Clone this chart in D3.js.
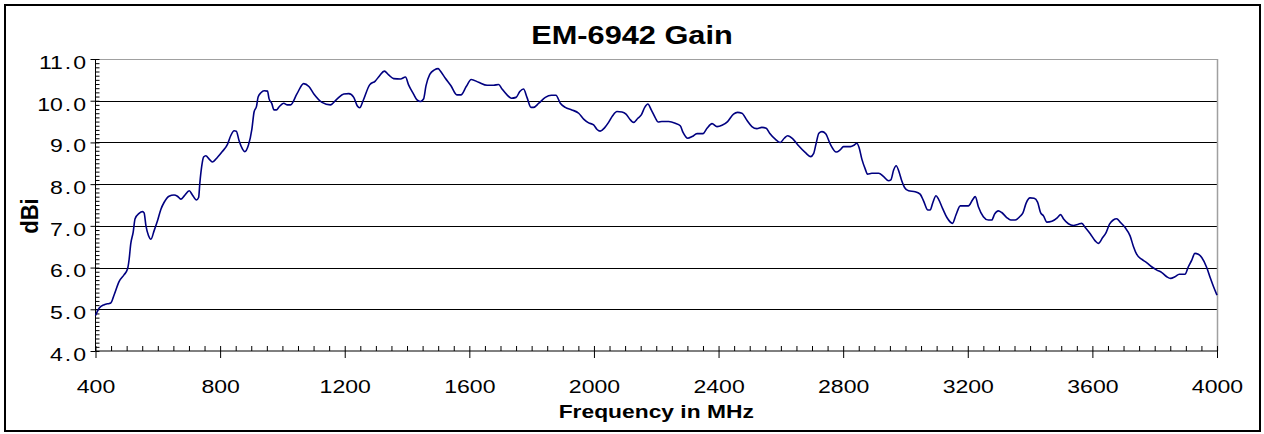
<!DOCTYPE html>
<html><head><meta charset="utf-8">
<script src="https://cdn.jsdelivr.net/npm/d3@7"></script>
<style>
html,body{margin:0;padding:0;background:#fff;}
svg{display:block;font-family:"Liberation Sans",Arial,sans-serif;}
</style></head>
<body>
<svg id="chart" width="1264" height="434"></svg>
<script>
const chartTitle = "EM-6942 Gain";
const xTitle = "Frequency in MHz";
const yTitle = "dBi";
const xTicks = [400, 800, 1200, 1600, 2000, 2400, 2800, 3200, 3600, 4000];
const yTicks = [4, 5, 6, 7, 8, 9, 10, 11];

const freq = [400,412,428,444,449,460,476,492,503,508,513,521,527,540,551,556,562,570,578,588,599,610,620,636,652,663,674,685,701,711,724,731,735,741,747,754,765,775,791,807,824,834,845,852,861,872,879,891,902,909,917,922,931,941,952,957,966,973,981,989,1004,1016,1026,1047,1068,1085,1101,1127,1154,1175,1197,1213,1229,1240,1248,1259,1280,1298,1312,1327,1341,1357,1379,1395,1405,1421,1432,1443,1453,1461,1473,1488,1500,1507,1523,1541,1560,1573,1590,1606,1630,1657,1678,1694,1705,1721,1735,1750,1762,1774,1785,1798,1806,1823,1844,1863,1878,1892,1908,1929,1951,1967,1983,1999,2010,2020,2034,2047,2060,2074,2090,2103,2117,2127,2141,2152,2163,2173,2184,2197,2206,2218,2240,2261,2277,2286,2301,2315,2331,2350,2363,2379,2395,2411,2429,2448,2461,2475,2491,2507,2523,2539,2553,2564,2582,2598,2611,2622,2639,2657,2678,2696,2705,2713,2722,2732,2744,2758,2778,2790,2801,2823,2836,2844,2851,2860,2871,2878,2892,2914,2930,2946,2953,2962,2970,2980,2988,2997,3010,3031,3047,3058,3072,3079,3088,3098,3106,3119,3133,3151,3162,3176,3186,3202,3215,3224,3234,3250,3266,3277,3286,3298,3309,3325,3338,3352,3368,3377,3387,3400,3413,3424,3434,3443,3454,3470,3488,3498,3507,3523,3539,3555,3566,3577,3593,3609,3619,3633,3644,3655,3667,3678,3689,3705,3721,3732,3742,3758,3774,3790,3807,3823,3839,3851,3865,3879,3897,3908,3919,3929,3940,3951,3967,3978,3988,4000];

const gain = [4.85,5.03,5.11,5.14,5.15,5.35,5.67,5.83,5.97,6.2,6.56,6.85,7.17,7.3,7.34,7.31,7.0,6.77,6.68,6.88,7.12,7.4,7.56,7.71,7.74,7.71,7.64,7.72,7.84,7.74,7.62,7.68,8.03,8.43,8.65,8.68,8.6,8.53,8.64,8.78,8.96,9.16,9.28,9.27,9.04,8.84,8.78,8.94,9.32,9.73,9.87,10.09,10.19,10.24,10.23,10.05,9.93,9.78,9.78,9.85,9.94,9.9,9.9,10.17,10.41,10.34,10.16,9.96,9.9,10.04,10.16,10.17,10.08,9.88,9.83,10.0,10.38,10.47,10.6,10.71,10.62,10.53,10.52,10.57,10.38,10.16,10.02,9.98,10.04,10.36,10.63,10.74,10.77,10.71,10.54,10.36,10.14,10.14,10.34,10.51,10.44,10.37,10.37,10.39,10.28,10.14,10.06,10.08,10.22,10.28,10.08,9.84,9.84,9.94,10.08,10.13,10.13,9.94,9.84,9.78,9.7,9.56,9.47,9.42,9.31,9.27,9.35,9.48,9.64,9.74,9.73,9.68,9.54,9.48,9.58,9.66,9.84,9.92,9.78,9.59,9.49,9.5,9.5,9.46,9.4,9.24,9.1,9.14,9.21,9.21,9.34,9.45,9.38,9.41,9.5,9.68,9.72,9.7,9.53,9.38,9.33,9.36,9.34,9.22,9.08,9.0,9.1,9.16,9.08,8.92,8.76,8.66,8.73,8.97,9.22,9.26,9.21,8.97,8.77,8.82,8.9,8.9,8.94,8.98,8.88,8.6,8.36,8.24,8.26,8.26,8.18,8.08,8.1,8.34,8.44,8.28,8.08,7.92,7.84,7.82,7.76,7.6,7.38,7.38,7.56,7.72,7.64,7.42,7.2,7.06,7.26,7.48,7.48,7.48,7.62,7.7,7.46,7.22,7.14,7.14,7.28,7.36,7.32,7.2,7.14,7.14,7.23,7.31,7.54,7.67,7.66,7.57,7.31,7.24,7.09,7.11,7.2,7.27,7.17,7.05,7.01,7.04,7.06,6.96,6.81,6.64,6.58,6.72,6.84,7.04,7.14,7.17,7.09,6.96,6.76,6.5,6.32,6.2,6.12,6.02,5.94,5.88,5.78,5.74,5.78,5.84,5.84,6.02,6.18,6.34,6.32,6.24,6.0,5.76,5.56,5.34];

const SX = 1.24; // horizontal stretch of the reference text
const svg = d3.select("#chart");
const L = 95.5, R = 1217, T = 59, B = 351;

// outer border
svg.append("rect").attr("x", 5).attr("y", 5).attr("width", 1255).attr("height", 426)
  .attr("fill", "#fff").attr("stroke", "#000").attr("stroke-width", 2);

const x = d3.scaleLinear().domain([400, 4000]).range([L, R]);
const y = d3.scaleLinear().domain([4, 11]).range([B, T]);

// gridlines
svg.append("g").selectAll("line").data(yTicks.filter(v => v > 4))
  .join("line")
  .attr("x1", L).attr("x2", R)
  .attr("y1", d => Math.round(y(d)) + 0.5).attr("y2", d => Math.round(y(d)) + 0.5)
  .attr("stroke", d => d === 11 ? "#a0a0a0" : "#000").attr("stroke-width", 1);
// right plot border
svg.append("line").attr("x1", R + 0.5).attr("x2", R + 0.5).attr("y1", T).attr("y2", B)
  .attr("stroke", "#a0a0a0").attr("stroke-width", 1.5);

// minor y ticks (inside)
const yMinor = d3.range(40, 111).map(v => v / 10);
svg.append("g").attr("transform", `translate(${L},0)`)
  .call(d3.axisLeft(y).tickValues(yMinor).tickSize(-4).tickFormat(""))
  .call(g => g.select(".domain").remove())
  .call(g => g.selectAll("line").attr("stroke", "#000"));

// minor x ticks (inside)
const xMinor = d3.range(400, 4001, 50);
svg.append("g").attr("transform", `translate(0,${B})`)
  .call(d3.axisBottom(x).tickValues(xMinor).tickSize(-5).tickFormat(""))
  .call(g => g.select(".domain").remove())
  .call(g => g.selectAll("line").attr("stroke", "#000"));

// y axis
const fmt = d3.format(".1f");
svg.append("g").attr("transform", `translate(${L},0)`)
  .call(d3.axisLeft(y).tickValues(yTicks).tickSize(5).tickPadding(0).tickFormat(fmt))
  .call(g => g.select(".domain").attr("stroke", "#000").attr("d", `M0,${T}V${B}`))
  .call(g => g.selectAll("line").attr("stroke", "#000"))
  .call(g => g.selectAll("text")
    .attr("x", -9.5 / SX).attr("dy", "0.5em")
    .attr("transform", `scale(${SX},1)`)
    .attr("fill", "#000").style("font-size", "18.6px")
    .style("font-family", '"Liberation Sans",Arial,sans-serif')
    .each(function(d) {
      const parts = fmt(d).split(".");
      const t = d3.select(this).text(null);
      t.append("tspan").text(parts[0]);
      t.append("tspan").attr("dx", 1.6).text(".");
      t.append("tspan").attr("dx", 1.6).text(parts[1]);
    }));

// x axis
svg.append("g").attr("transform", `translate(0,${B})`)
  .call(d3.axisBottom(x).tickValues(xTicks).tickSize(7).tickPadding(0).tickFormat(d3.format("d")))
  .call(g => g.select(".domain").attr("stroke", "#000").attr("d", `M${L},0H${R}`))
  .call(g => g.selectAll("line").attr("stroke", "#000"))
  .call(g => g.selectAll("text")
    .attr("y", 42).attr("dy", null)
    .attr("transform", `scale(${SX},1)`)
    .attr("fill", "#000").style("font-size", "18.6px")
    .style("font-family", '"Liberation Sans",Arial,sans-serif'));

// line
const pts = freq.map((f, i) => [f, gain[i]]);
svg.append("path").datum(pts)
  .attr("fill", "none").attr("stroke", "#000080").attr("stroke-width", 1.6)
  .attr("stroke-linejoin", "round")
  .attr("d", d3.line().x(d => x(d[0])).y(d => y(d[1])).curve(d3.curveMonotoneX));

// titles
function addText(px, py, str, size, stretch, rotate) {
  const g = svg.append("g").attr("transform",
    `translate(${px},${py})` + (rotate ? ` rotate(-90) scale(1,${stretch})` : ` scale(${stretch},1)`));
  g.append("text").attr("text-anchor", "middle").attr("fill", "#000")
    .style("font-weight", "bold").style("font-size", size + "px").text(str);
}
addText(632, 44, chartTitle, 26.5, 1.16, false);
addText((L + R) / 2, 418, xTitle, 18.4, SX, false);
addText(38, 216, yTitle, 22, 1.1, true);
</script>
</body></html>
